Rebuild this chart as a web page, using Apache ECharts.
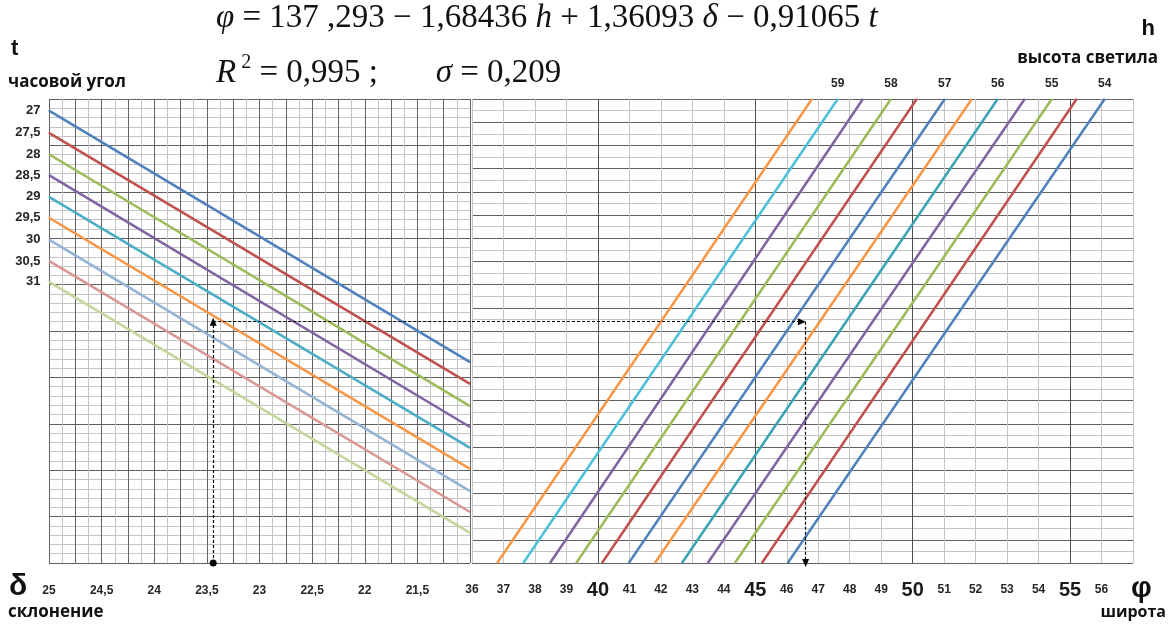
<!DOCTYPE html>
<html>
<head>
<meta charset="utf-8">
<script src="https://cdn.jsdelivr.net/npm/echarts@6/dist/echarts.min.js"></script>
<style>html,body{margin:0;padding:0;background:#fff}#c{width:1176px;height:626px}</style>
</head>
<body>
<div id="c"></div>
<script>
// ---- data ----
// left panel: hour angle t lines, value on shared Y scale at δ=25 (start) and δ=21 (end)
const tValues = [27, 27.5, 28, 28.5, 29, 29.5, 30, 30.5, 31];
const tStartY = [9.75, 9.27, 8.81, 8.36, 7.89, 7.44, 6.97, 6.51, 6.06];
const tEndY   = [4.33, 3.86, 3.38, 2.93, 2.48, 2.03, 1.55, 1.10, 0.65];
// right panel: altitude h lines, latitude φ at bottom (Y=0) and top (Y=10)
const hValues    = [59.5, 59, 58.5, 58, 57.5, 57, 56.5, 56, 55.5, 55, 54.5, 54];
const hBottomPhi = [36.80, 37.63, 38.48, 39.31, 40.13, 40.98, 41.81, 42.67, 43.49, 44.35, 45.21, 46.03];
const hTopPhi    = [46.80, 47.62, 48.42, 49.31, 50.13, 51.02, 51.88, 52.70, 53.56, 54.42, 55.21, 56.10];
// example key (dashed arrows)
const exampleDelta = 23.44;
const exampleY = 5.2;
const examplePhi = 46.6;
// axis ranges
const deltaRange = [21, 25];
const phiRange = [36, 57];
const yRange = [0, 10];

const leftColors  = ['#4F81BD','#C0504D','#9BBB59','#8064A2','#4BACC6','#F79646','#95B3D7','#D99694','#C3D69B'];
const rightColors = ['#F79646','#4BC0D8','#8064A2','#9BBB59','#C0504D','#4F81BD','#F79646','#3AA3B5','#8064A2','#9BBB59','#C0504D','#4F81BD'];

const fmt = v => String(v).replace('.', ',');
const DARK = '#626262', LIGHT = '#c4c4c4';
const labelFont = 'Liberation Sans';

const series = [];
tValues.forEach((t, i) => {
  series.push({
    type: 'line', xAxisIndex: 0, yAxisIndex: 0, silent: true,
    symbol: 'circle', symbolSize: 1, showSymbol: true,
    itemStyle: {color: leftColors[i]},
    lineStyle: {color: leftColors[i], width: 2.5},
    emphasis: {disabled: true},
    data: [
      {value: [deltaRange[1], tStartY[i]], label: {show: true, position: 'left', distance: 8,
        formatter: fmt(t), fontFamily: labelFont, fontWeight: 'bold', fontSize: 13, color: '#262626'}},
      [deltaRange[0], tEndY[i]]
    ]
  });
});
hValues.forEach((h, i) => {
  const isInt = Number.isInteger(h);
  series.push({
    type: 'line', xAxisIndex: 1, yAxisIndex: 1, silent: true,
    symbol: 'circle', symbolSize: 1, showSymbol: true,
    itemStyle: {color: rightColors[i]},
    lineStyle: {color: rightColors[i], width: 2.5},
    emphasis: {disabled: true},
    data: [
      [hBottomPhi[i], yRange[0]],
      {value: [hTopPhi[i], yRange[1]], label: {show: isInt, position: 'top', distance: 9,
        formatter: fmt(h), fontFamily: labelFont, fontWeight: 'bold', fontSize: 12, color: '#262626'}}
    ]
  });
});
// dashed example arrows
const dashStyle = {type: [3, 2], color: '#000', width: 1.2};
series.push({
  type: 'line', xAxisIndex: 0, yAxisIndex: 0, data: [], silent: true,
  markLine: {silent: true, animation: false, label: {show: false}, lineStyle: dashStyle,
    emphasis: {disabled: true},
    data: [
      [{coord: [exampleDelta, yRange[0]], symbol: 'circle', symbolSize: 7}, {coord: [exampleDelta, exampleY], symbol: 'triangle', symbolSize: [7, 8]}],
      [{coord: [exampleDelta, exampleY], symbol: 'none'}, {coord: [deltaRange[0], exampleY], symbol: 'none'}]
    ]}
});
series.push({
  type: 'line', xAxisIndex: 1, yAxisIndex: 1, data: [], silent: true,
  markLine: {silent: true, animation: false, label: {show: false}, lineStyle: dashStyle,
    emphasis: {disabled: true},
    data: [
      [{coord: [phiRange[0], exampleY], symbol: 'none'}, {coord: [examplePhi - 0.12, exampleY], symbol: 'triangle', symbolSize: [7, 8]}],
      [{coord: [examplePhi, exampleY], symbol: 'none'}, {coord: [examplePhi, yRange[0]], symbol: 'triangle', symbolSize: [7, 8]}]
    ]}
});

const serif = 'Liberation Serif';
const EQ = 33;
const option = {
  animation: false,
  backgroundColor: '#ffffff',
  grid: [
    {left: 49, top: 99, width: 421, height: 464},
    {left: 472, top: 99, width: 661, height: 464}
  ],
  xAxis: [
    {gridIndex: 0, type: 'value', min: deltaRange[0], max: deltaRange[1], inverse: true, interval: 0.25,
      axisLine: {show: false}, axisTick: {show: false},
      axisLabel: {showMinLabel: true, showMaxLabel: true, margin: 18,
        formatter: v => (Math.abs(v * 2 - Math.round(v * 2)) < 1e-6 && v > 21.01) ? fmt(v) : '',
        fontFamily: labelFont, fontWeight: 'bold', fontSize: 12, lineHeight: 20, color: '#262626'},
      splitLine: {show: true, lineStyle: {color: DARK, width: 1}},
      minorTick: {show: false, splitNumber: 2},
      minorSplitLine: {show: true, lineStyle: {color: LIGHT, width: 1}}
    },
    {gridIndex: 1, type: 'value', min: phiRange[0], max: phiRange[1], interval: 1,
      axisLine: {show: false}, axisTick: {show: false},
      axisLabel: {showMinLabel: true, showMaxLabel: true, margin: 17,
        formatter: v => v >= 57 ? '' : (v % 5 === 0 ? '{b|' + v + '}' : '{s|' + v + '}'),
        rich: {
          b: {fontFamily: labelFont, fontWeight: 'bold', fontSize: 20, lineHeight: 20, color: '#1a1a1a'},
          s: {fontFamily: labelFont, fontWeight: 'bold', fontSize: 12, lineHeight: 20, color: '#262626'}
        }},
      splitLine: {show: true, lineStyle: {color: [LIGHT, LIGHT, LIGHT, LIGHT, '#505050'], width: 1}}
    }
  ],
  yAxis: [
    {gridIndex: 0, type: 'value', min: yRange[0], max: yRange[1], interval: 1,
      axisLine: {show: false}, axisTick: {show: false}, axisLabel: {show: false},
      splitLine: {show: true, lineStyle: {color: DARK, width: 1}},
      minorTick: {show: false, splitNumber: 5},
      minorSplitLine: {show: true, lineStyle: {color: LIGHT, width: 1}}
    },
    {gridIndex: 1, type: 'value', min: yRange[0], max: yRange[1], interval: 0.5,
      axisLine: {show: false}, axisTick: {show: false}, axisLabel: {show: false},
      splitLine: {show: true, lineStyle: {color: DARK, width: 1}},
      minorTick: {show: false, splitNumber: 2},
      minorSplitLine: {show: true, lineStyle: {color: LIGHT, width: 1}}
    }
  ],
  series: series,
  graphic: [
    {type: 'text', left: 216, top: 2, silent: true, style: {
      text: '{i|φ}{n| = 137 ,293 − 1,68436 }{i|h}{n| + 1,36093 }{i|δ}{n| − 0,91065 }{i|t}',
      rich: {
        i: {fontFamily: serif, fontStyle: 'italic', fontSize: EQ, lineHeight: 40, fill: '#111'},
        n: {fontFamily: serif, fontSize: EQ, lineHeight: 40, fill: '#111'}
      }}},
    {type: 'text', left: 216, top: 53, silent: true, style: {
      text: '{i|R}{sup| 2}{n| = 0,995 ;       }{i|σ}{n| = 0,209}',
      rich: {
        i: {fontFamily: serif, fontStyle: 'italic', fontSize: EQ, lineHeight: 40, fill: '#111'},
        sup: {fontFamily: serif, fontSize: 20, lineHeight: 40, verticalAlign: 'top', fill: '#111'},
        n: {fontFamily: serif, fontSize: EQ, lineHeight: 40, fill: '#111'}
      }}},
    {type: 'text', left: 11, top: 38, silent: true, style: {text: 't', font: 'bold 22px "Liberation Sans"', fill: '#111'}},
    {type: 'text', left: 8, top: 74, silent: true, style: {text: 'часовой угол', font: 'bold 17px "Open Sans"', fill: '#111'}},
    {type: 'text', right: 21, top: 18, silent: true, style: {text: 'h', font: 'bold 22px "Liberation Sans"', fill: '#111'}},
    {type: 'text', right: 18, top: 50, silent: true, style: {text: 'высота светила', font: 'bold 17px "Open Sans"', fill: '#111'}},
    {type: 'text', left: 9, top: 572, silent: true, style: {text: 'δ', font: 'bold 30px "Liberation Sans"', fill: '#111'}},
    {type: 'text', left: 8, top: 604, silent: true, style: {text: 'склонение', font: 'bold 17px "Open Sans"', fill: '#111'}},
    {type: 'text', left: 1131, top: 574, silent: true, style: {text: 'φ', font: 'bold 29px "Liberation Sans"', fill: '#111'}},
    {type: 'text', right: 10, top: 604, silent: true, style: {text: 'широта', font: 'bold 16px "Open Sans"', fill: '#111'}}
  ]
};
const chart = echarts.init(document.getElementById('c'), null, {renderer: 'canvas'});
chart.setOption(option);
</script>
</body>
</html>
